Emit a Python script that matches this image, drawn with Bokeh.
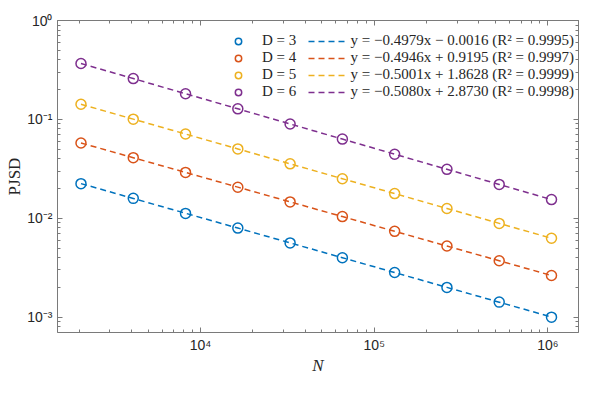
import numpy as np
from bokeh.plotting import figure
from bokeh.models import (LogAxis, LogTicker, CustomJSTickFormatter, Legend,
                          LegendItem, Range1d)
from bokeh.embed import file_html
from bokeh.resources import INLINE

# ---- data ----
N = [2048, 4096, 8192, 16384, 32768, 65536, 131072, 262144, 524288, 1048576]
dims = ["3", "4", "5", "6"]
pjsd_d3 = [0.0224, 0.0159, 0.0112, 0.00796, 0.00564, 0.00399, 0.00283, 0.00200, 0.00142, 0.00100]
pjsd_d4 = [0.0577, 0.0410, 0.0291, 0.0206, 0.01465, 0.0104, 0.00738, 0.00524, 0.00372, 0.00264]
pjsd_d5 = [0.1423, 0.1006, 0.0711, 0.0503, 0.03555, 0.0251, 0.01777, 0.01257, 0.00888, 0.00628]
pjsd_d6 = [0.3678, 0.2587, 0.1819, 0.1279, 0.0899, 0.0632, 0.04447, 0.03127, 0.0220, 0.01546]
slopes = [-0.4979, -0.4946, -0.5001, -0.5080]
intercepts = [-0.0016, 0.9195, 1.8628, 2.8730]
r2 = [0.9995, 0.9997, 0.9999, 0.9998]
series = [pjsd_d3, pjsd_d4, pjsd_d5, pjsd_d6]

colors = ["#0072BD", "#D95319", "#EDB120", "#7E2F8E"]
AX = "#7a7a7a"
TXT = "#262626"
SERIF = "Liberation Serif"
SANS = "Liberation Sans"

p = figure(width=582, height=377, x_axis_type="log", y_axis_type="log",
           x_range=Range1d(start=1500, end=1.5e6), y_range=Range1d(start=7e-4, end=1),
           output_backend="svg", toolbar_location=None,
           min_border_left=57, min_border_right=4, min_border_top=20,
           min_border_bottom=38)
p.grid.visible = False
p.outline_line_color = None
p.background_fill_color = "white"
p.border_fill_color = "white"

SUP_JS = """
const m = {"-": "\u207b", "0": "\u2070", "1": "\u00b9", "2": "\u00b2", "3": "\u00b3",
           "4": "\u2074", "5": "\u2075", "6": "\u2076", "7": "\u2077", "8": "\u2078", "9": "\u2079"};
const e = Math.round(Math.log10(tick));
return "10" + String(e).split("").map((c) => m[c]).join("");
"""

def style_axis(ax, show_labels):
    ax.ticker = LogTicker(mantissas=[1], num_minor_ticks=10)
    ax.axis_line_color = AX
    ax.axis_line_width = 1
    ax.major_tick_line_color = AX
    ax.minor_tick_line_color = AX
    ax.major_tick_in = 5
    ax.major_tick_out = 0
    ax.minor_tick_in = 3
    ax.minor_tick_out = 0
    ax.major_label_text_font = SANS
    ax.major_label_text_font_size = "14px"
    ax.major_label_text_color = TXT
    if show_labels:
        ax.formatter = CustomJSTickFormatter(code=SUP_JS)
    else:
        ax.formatter = CustomJSTickFormatter(code="return ''")
        ax.major_label_standoff = 0

style_axis(p.xaxis[0], True)
style_axis(p.yaxis[0], True)
p.xaxis[0].major_label_standoff = 4
p.yaxis[0].major_label_standoff = 5
p.xaxis[0].axis_label = "N"
p.xaxis[0].axis_label_text_font = SERIF
p.xaxis[0].axis_label_text_font_style = "italic"
p.xaxis[0].axis_label_text_font_size = "17px"
p.xaxis[0].axis_label_text_color = TXT
p.xaxis[0].axis_label_standoff = 0
p.yaxis[0].axis_label = "PJSD"
p.yaxis[0].axis_label_text_font = SERIF
p.yaxis[0].axis_label_text_font_style = "normal"
p.yaxis[0].axis_label_text_font_size = "17px"
p.yaxis[0].axis_label_text_color = TXT
p.yaxis[0].axis_label_standoff = 0

top = LogAxis()
right = LogAxis()
style_axis(top, False)
style_axis(right, False)
p.add_layout(top, "above")
p.add_layout(right, "right")

marker_items = []
line_items = []
Narr = np.array(N, dtype=float)
for d, ys, a, b, r, c in zip(dims, series, slopes, intercepts, r2, colors):
    fit = np.exp(b) * Narr ** a
    lr = p.line(Narr, fit, line_color=c, line_width=1.5, line_dash="6 4")
    sr = p.scatter(N, ys, marker="circle", size=10, fill_color=None,
                   line_color=c, line_width=1.5)
    marker_items.append(LegendItem(label=f"D = {d}\u2002 ", renderers=[sr]))
    slope_txt = ("\u2212" if a < 0 else "") + f"{abs(a):.4f}"
    b_sign = "\u2212" if b < 0 else "+"
    lab = f"y = {slope_txt}x {b_sign} {abs(b):.4f} (R\u00b2 = {r:.4f})"
    line_items.append(LegendItem(label=lab, renderers=[lr]))

legend = Legend(items=marker_items + line_items, ncols=2,
                location=(162, 232),
                glyph_width=38, glyph_height=16, label_height=16,
                label_standoff=5, spacing=0, padding=0, margin=0,
                label_text_font=SERIF, label_text_font_size="15px",
                label_text_color=TXT,
                border_line_color=None, background_fill_alpha=0)
p.add_layout(legend, "center")

open("out.html", "w").write(file_html(p, INLINE))
